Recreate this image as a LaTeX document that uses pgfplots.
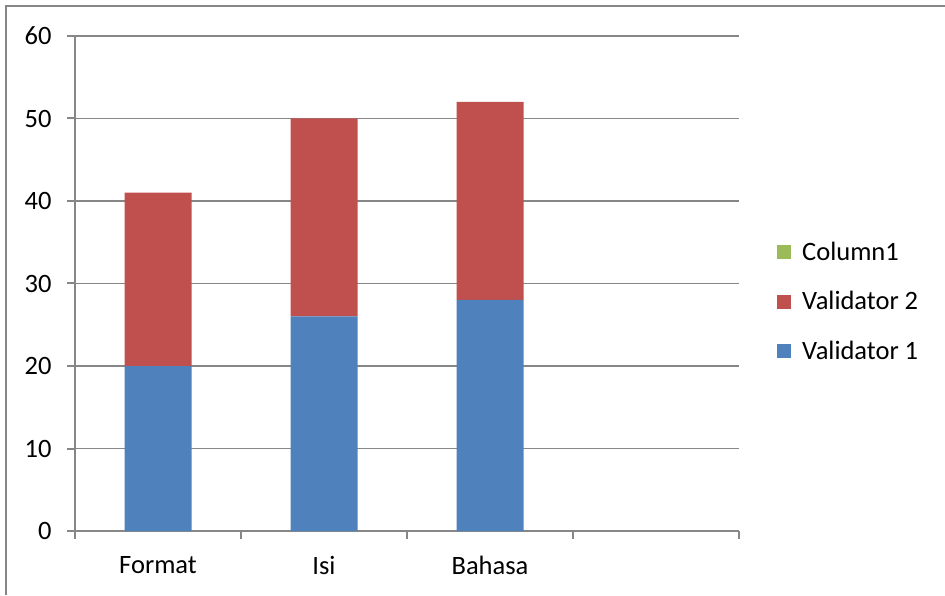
\documentclass[border=0pt]{standalone}
\usepackage{pgfplots}
\pgfplotsset{compat=1.18}
\usepackage{fontspec}
\setmainfont{Carlito}
\definecolor{vone}{HTML}{4F81BD}
\definecolor{vtwo}{HTML}{C0504D}
\definecolor{colone}{HTML}{9BBB59}
\definecolor{axgray}{HTML}{878787}
\begin{document}
\begin{tikzpicture}[x=1pt,y=1pt]
\path[use as bounding box] (0,0) rectangle (945,595);
\draw[axgray, line width=2pt] (6,0) -- (6,589) -- (945,589);
\begin{axis}[
  at={(75pt,64pt)}, anchor=south west,
  scale only axis, width=664pt, height=495pt,
  ybar stacked, bar width=67pt,
  xmin=-0.5, xmax=3.5, ymin=0, ymax=60,
  ytick={0,10,...,60},
  xtick={-0.5,0.5,1.5,2.5,3.5}, xticklabels={},
  extra x ticks={0,1,2},
  extra x tick labels={Format,Isi,Bahasa},
  extra x tick style={major tick length=0pt, xticklabel style={yshift=-22pt}},
  axis x line*=bottom, axis y line*=left,
  axis line style={axgray, line width=2pt, -},
  tick style={axgray, line width=2pt},
  tick align=outside, major tick length=8pt,
  ymajorgrids, grid style={axgray, line width=1.5pt},
  /pgf/number format/assume math mode=true,
  every tick label/.append style={font=\fontsize{26.5}{31}\selectfont, text=black},
  yticklabel style={xshift=-12pt},
  legend style={at={(1.0572,0.4636)}, anchor=west, draw=none, fill=none,
    font=\fontsize{26.5}{31}\selectfont, inner sep=0pt,
    row sep=25.5pt, cells={anchor=west}},
  legend image code/.code={\fill[#1] (0pt,-7pt) rectangle (14pt,7pt); \path (23pt,0pt);},
  reverse legend,
]
\addplot[fill=vone, draw=none] coordinates {(0,20) (1,26) (2,28)};
\addlegendentry{Validator 1}
\addplot[fill=vtwo, draw=none] coordinates {(0,21) (1,24) (2,24)};
\addlegendentry{Validator 2}
\addplot[fill=colone, draw=none] coordinates {(0,0) (1,0) (2,0)};
\addlegendentry{Column1}
\end{axis}
\end{tikzpicture}
\end{document}
